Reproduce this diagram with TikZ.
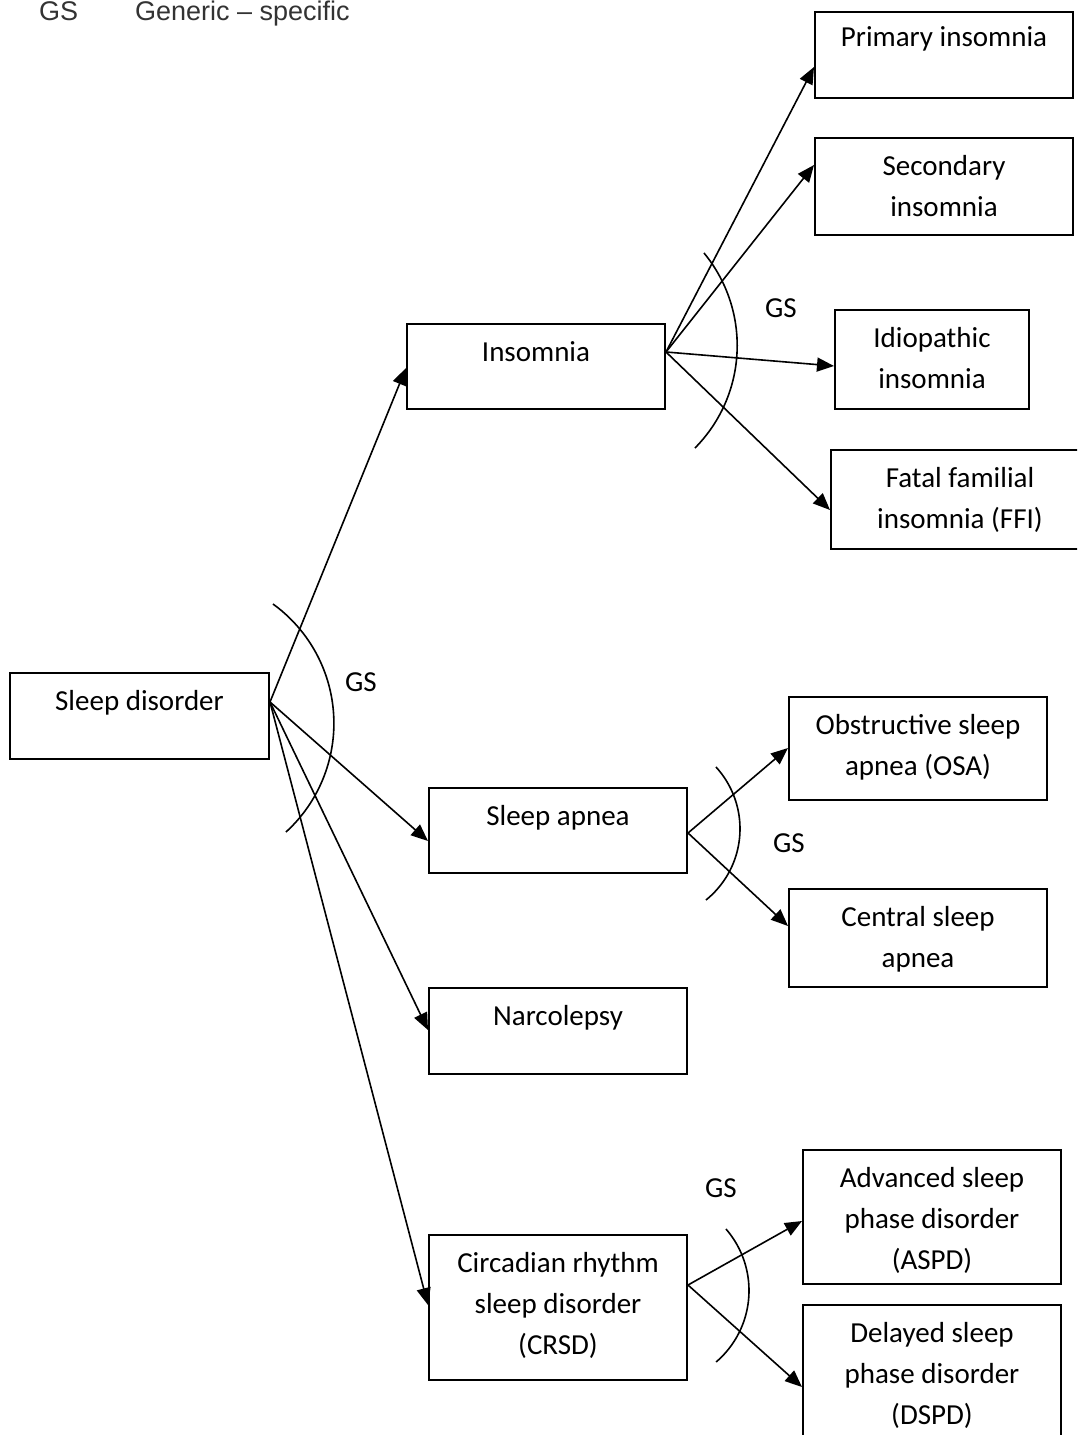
\documentclass[tikz,border=0pt]{standalone}
\usepackage{fontspec}
\setmainfont{Carlito}
\newfontfamily\legendfont{Liberation Sans}
\usetikzlibrary{arrows.meta,calc}
\begin{document}
\begin{tikzpicture}[x=1pt,y=-1pt,
  box/.style={draw, line width=2pt, anchor=north west, inner sep=0, minimum width=258pt},
  lbl/.style={font=\fontsize{29}{41}\selectfont, align=center, inner sep=0, anchor=north},
  link/.style={line width=1.6pt, -{Triangle[length=17pt,width=14pt]}},
  gsarc/.style={line width=1.6pt},
  gs/.style={font=\fontsize{29}{41}\selectfont, anchor=base, inner sep=0},
  legend/.style={font=\legendfont\fontsize{27}{33}\selectfont, anchor=base west, inner sep=0, text=black!80},
]
\useasboundingbox (0,0) rectangle (1077,1435);
\clip (0,0) rectangle (1077,1435);

% legend
\node[legend] (leg-gs) at (39,20) {GS};
\node[legend] (leg-txt) at (135,20) {Generic – specific};

% boxes
\node[box, minimum width=259pt, minimum height=86pt] (sd) at (9,672) {};
\node[box, minimum height=85pt] (ins) at (406,323) {};
\node[box, minimum height=85pt] (sa) at (428,787) {};
\node[box, minimum height=86pt] (nar) at (428,987) {};
\node[box, minimum height=145pt] (crsd) at (428,1234) {};

\node[box, minimum height=86pt] (pri) at (814,11) {};
\node[box, minimum height=97pt] (sec) at (814,137) {};
\node[box, minimum width=194pt, minimum height=99pt] (idio) at (834,309) {};
\node[box, minimum height=99pt] (ffi) at (830,449) {};
\node[box, minimum height=103pt] (osa) at (788,696) {};
\node[box, minimum height=98pt] (csa) at (788,888) {};
\node[box, minimum height=134pt] (aspd) at (802,1149) {};
\node[box, minimum height=134pt] (dspd) at (802,1304) {};

% box texts, first baseline 38pt below the top edge
\node[lbl] (sd-t) at ([yshift=-9.3pt]sd.north) {\strut Sleep disorder};
\node[lbl] (ins-t) at ([yshift=-9.3pt]ins.north) {\strut Insomnia};
\node[lbl] (sa-t) at ([yshift=-9.3pt]sa.north) {\strut Sleep apnea};
\node[lbl] (nar-t) at ([yshift=-9.3pt]nar.north) {\strut Narcolepsy};
\node[lbl] (crsd-t) at ([yshift=-9.3pt]crsd.north) {\strut Circadian rhythm\\sleep disorder\\(CRSD)};
\node[lbl] (pri-t) at ([yshift=-7pt]pri.north) {\strut Primary insomnia};
\node[lbl] (sec-t) at ([yshift=-9.3pt]sec.north) {\strut Secondary\\insomnia};
\node[lbl] (idio-t) at ([yshift=-9.3pt]idio.north) {\strut Idiopathic\\insomnia};
\node[lbl] (ffi-t) at ([yshift=-9.3pt]ffi.north) {\strut Fatal familial\\insomnia (FFI)};
\node[lbl] (osa-t) at ([yshift=-9.3pt]osa.north) {\strut Obstructive sleep\\apnea (OSA)};
\node[lbl] (csa-t) at ([yshift=-9.3pt]csa.north) {\strut Central sleep\\apnea};
\node[lbl] (aspd-t) at ([yshift=-9.3pt]aspd.north) {\strut Advanced sleep\\phase disorder\\(ASPD)};
\node[lbl] (dspd-t) at ([yshift=-9.3pt]dspd.north) {\strut Delayed sleep\\phase disorder\\(DSPD)};

% connector end points on the box edges
\coordinate (sd-out) at ($(sd.north east)+(0,30)$);
\coordinate (ins-in) at ($(ins.north west)+(0,45)$);
\coordinate (sa-in) at ($(sa.north west)+(0,54)$);
\coordinate (nar-in) at ($(nar.north west)+(0,43)$);
\coordinate (crsd-in) at ($(crsd.north west)+(0,71)$);

\coordinate (ins-out) at ($(ins.north east)+(0,29)$);
\coordinate (pri-in) at ($(pri.north west)+(0,56)$);
\coordinate (sec-in) at ($(sec.north west)+(0,28)$);
\coordinate (idio-in) at ($(idio.north west)+(0,57)$);
\coordinate (ffi-in) at ($(ffi.north west)+(0,61)$);

\coordinate (sa-out) at ($(sa.north east)+(0,46)$);
\coordinate (osa-in) at ($(osa.north west)+(0,52)$);
\coordinate (csa-in) at ($(csa.north west)+(0,38)$);

\coordinate (crsd-out) at ($(crsd.north east)+(0,51)$);
\coordinate (aspd-in) at ($(aspd.north west)+(0,72)$);
\coordinate (dspd-in) at ($(dspd.north west)+(0,83)$);

% connectors
\draw[link] (sd-out) -- (ins-in);
\draw[link] (sd-out) -- (sa-in);
\draw[link] (sd-out) -- (nar-in);
\draw[link] (sd-out) -- (crsd-in);

\draw[link] (ins-out) -- (pri-in);
\draw[link] (ins-out) -- (sec-in);
\draw[link] (ins-out) -- (idio-in);
\draw[link] (ins-out) -- (ffi-in);

\draw[link] (sa-out) -- (osa-in);
\draw[link] (sa-out) -- (csa-in);

\draw[link] (crsd-out) -- (aspd-in);
\draw[link] (crsd-out) -- (dspd-in);

% generic-specific arcs (circular, centre and radius per fan)
\draw[gsarc] plot[domain=-54.1:47.6, samples=50, smooth] ({186.6+147.3*cos(\x)}, {723.3+147.3*sin(\x)});
\draw[gsarc] plot[domain=-39.5:44.8, samples=50, smooth] ({591.7+145.5*cos(\x)}, {345.5+145.5*sin(\x)});
\draw[gsarc] plot[domain=-42.5:51.1, samples=50, smooth] ({648.5+91.5*cos(\x)}, {828.8+91.5*sin(\x)});
\draw[gsarc] plot[domain=-41.0:49.5, samples=50, smooth] ({655.1+93.9*cos(\x)}, {1290.6+93.9*sin(\x)});

% arc labels
\node[gs] (gs1) at (361,691) {GS};
\node[gs] (gs2) at (781,317) {GS};
\node[gs] (gs3) at (789,852) {GS};
\node[gs] (gs4) at (721,1197) {GS};
\end{tikzpicture}
\end{document}
